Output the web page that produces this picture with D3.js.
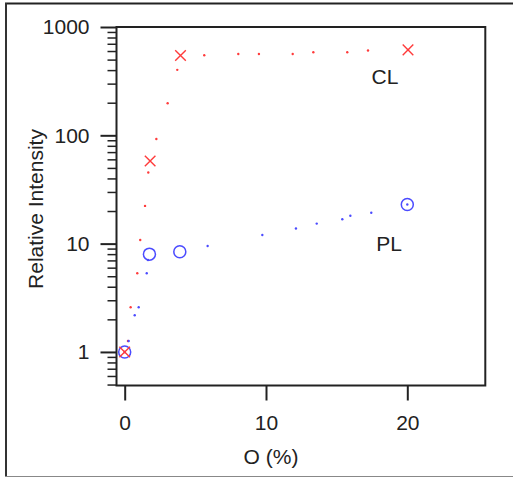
<!DOCTYPE html>
<html>
<head>
<meta charset="utf-8">
<script src="https://cdn.jsdelivr.net/npm/d3@7"></script>
<style>
body { margin: 0; background: #fff; }
text { font-family: "Liberation Sans", Arial, sans-serif; fill: #222; }
</style>
</head>
<body>
<svg id="chart"></svg>
<script>
// big markers
var clX = [0, 1.8, 3.95, 20.05];
var clY = [1, 58, 545, 615];
var plX = [0, 1.75, 3.9, 20];
var plY = [1, 8.0, 8.4, 23];

// small dots
var clDotX = [0, 0.23, 0.42, 0.89, 1.10, 1.44, 1.67, 2.24, 3.04, 3.72, 5.63, 8.04, 9.5, 11.89, 13.35, 15.75, 17.22, 20.05];
var clDotY = [1, 1.26, 2.59, 5.33, 10.8, 22.3, 45.3, 92.6, 198, 402, 549, 564, 564, 564, 585, 585, 606, 615];
var plDotX = [0, 0.28, 0.71, 0.99, 1.56, 1.65, 5.87, 9.74, 12.12, 13.59, 15.4, 15.97, 17.45, 20];
var plDotY = [1, 1.26, 2.18, 2.59, 5.33, 7.07, 9.5, 12.0, 13.8, 15.3, 16.8, 18.1, 19.3, 23];

var xTicks = [0, 10, 20];
var yTicks = [1, 10, 100, 1000];
var yMinor = [0.5, 0.6, 0.7, 0.8, 0.9, 2, 3, 4, 5, 6, 7, 8, 9, 20, 30, 40, 50, 60, 70, 80, 90, 200, 300, 400, 500, 600, 700, 800, 900];

var width = 513, height = 477;
var pLeft = 116.5, pRight = 485.3, pTop = 27, pBottom = 385.5;
var red = "#ff3b3b", blue = "#4b4bff";

var svg = d3.select("#chart").attr("width", width).attr("height", height);

// outer border
svg.append("line").attr("x1", 5).attr("x2", 513).attr("y1", 3.5).attr("y2", 3.5).attr("stroke", "#222").attr("stroke-width", 2);
svg.append("line").attr("x1", 6).attr("x2", 6).attr("y1", 3).attr("y2", 477).attr("stroke", "#333").attr("stroke-width", 2);
svg.append("line").attr("x1", 5).attr("x2", 513).attr("y1", 476.5).attr("y2", 476.5).attr("stroke", "#888").attr("stroke-width", 1);

var x = d3.scaleLinear().domain([-0.58, 25.52]).range([pLeft, pRight]);
var y = d3.scaleLog().domain([0.49, 1000]).range([pBottom, pTop]);

// frame
svg.append("rect").attr("x", pLeft).attr("y", pTop).attr("width", pRight - pLeft).attr("height", pBottom - pTop)
	.attr("fill", "none").attr("stroke", "#222").attr("stroke-width", 2);

// y axis minor ticks
var yMin = svg.append("g").attr("transform", "translate(" + pLeft + ",0)")
	.call(d3.axisLeft(y).tickValues(yMinor).tickSize(9).tickFormat(""));
yMin.select(".domain").remove();
yMin.selectAll("line").attr("stroke", "#222").attr("stroke-width", 1.5);

// y axis major
var yAx = svg.append("g").attr("transform", "translate(" + pLeft + ",0)")
	.call(d3.axisLeft(y).tickValues(yTicks).tickSize(16).tickPadding(11).tickFormat(d3.format("d")));
yAx.select(".domain").remove();
yAx.selectAll("line").attr("stroke", "#222").attr("stroke-width", 2);
yAx.selectAll("text").attr("font-size", 21).attr("font-family", "Liberation Sans, Arial, sans-serif").attr("fill", "#222");

// x axis
var xAx = svg.append("g").attr("transform", "translate(0," + pBottom + ")")
	.call(d3.axisBottom(x).tickValues(xTicks).tickSize(15).tickPadding(15).tickFormat(d3.format("d")));
xAx.select(".domain").remove();
xAx.selectAll("line").attr("stroke", "#222").attr("stroke-width", 2);
xAx.selectAll("text").attr("font-size", 21).attr("font-family", "Liberation Sans, Arial, sans-serif").attr("fill", "#222");

// axis titles
svg.append("text").text("O (%)").attr("x", 271).attr("y", 464).attr("text-anchor", "middle").attr("font-size", 21);
svg.append("text").text("Relative Intensity").attr("transform", "translate(43,209) rotate(-90)")
	.attr("text-anchor", "middle").attr("font-size", 21);

// small dots
svg.selectAll(".cldot").data(clDotX).enter().append("circle")
	.attr("cx", function(d) { return x(d); })
	.attr("cy", function(d, i) { return y(clDotY[i]); })
	.attr("r", 1.2).attr("fill", red);
svg.selectAll(".pldot").data(plDotX).enter().append("circle")
	.attr("cx", function(d) { return x(d); })
	.attr("cy", function(d, i) { return y(plDotY[i]); })
	.attr("r", 1.2).attr("fill", blue);

// PL circles
svg.selectAll(".plm").data(plX).enter().append("circle")
	.attr("cx", function(d) { return x(d); })
	.attr("cy", function(d, i) { return y(plY[i]); })
	.attr("r", 6).attr("fill", "none").attr("stroke", blue).attr("stroke-width", 1.5);

// CL crosses
var s = 5.3;
svg.selectAll(".clm").data(clX).enter().append("path")
	.attr("d", function(d, i) {
		var cx = x(d), cy = y(clY[i]);
		return "M" + (cx - s) + "," + (cy - s) + "L" + (cx + s) + "," + (cy + s) +
			"M" + (cx - s) + "," + (cy + s) + "L" + (cx + s) + "," + (cy - s);
	})
	.attr("stroke", red).attr("stroke-width", 1.4).attr("fill", "none");

// series labels
svg.append("text").text("CL").attr("x", 385).attr("y", 84).attr("text-anchor", "middle").attr("font-size", 21);
svg.append("text").text("PL").attr("x", 389).attr("y", 251).attr("text-anchor", "middle").attr("font-size", 21);
</script>
</body>
</html>
